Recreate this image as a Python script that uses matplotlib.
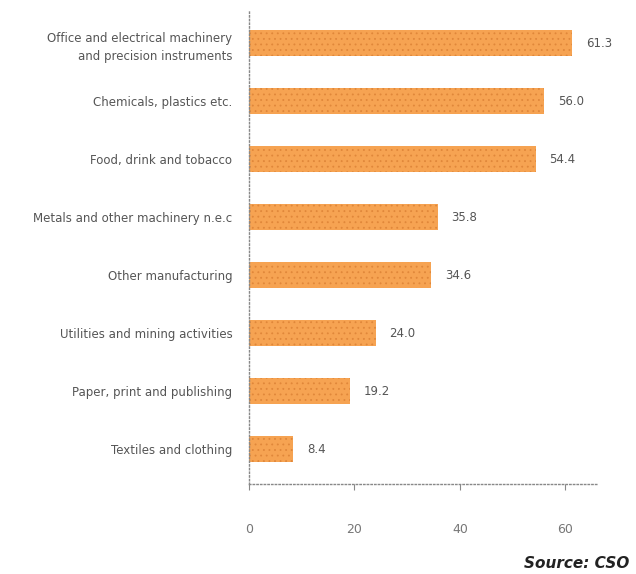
import numpy as np
import matplotlib
matplotlib.use("Agg")
import matplotlib.pyplot as plt

# sectors, top to bottom as in the chart
sectors = ["Office and electrical machinery\nand precision instruments",
           "Chemicals, plastics etc.",
           "Food, drink and tobacco",
           "Metals and other machinery n.e.c",
           "Other manufacturing",
           "Utilities and mining activities",
           "Paper, print and publishing",
           "Textiles and clothing"]
values = [61.3, 56.0, 54.4, 35.8, 34.6, 24.0, 19.2, 8.4]
xticks = [0, 20, 40, 60]

plt.rcParams['hatch.linewidth'] = 0.6

fig = plt.figure(figsize=(6.36, 5.74), dpi=100)
ax = fig.add_axes([249/636, 1-484/574, (597-249)/636, (484-10)/574])

pos = np.arange(len(sectors))
bars = ax.barh(pos, values, height=0.45, color='#f6a352',
               edgecolor='#e0873a', linewidth=0, hatch='...')

for p, v in zip(pos, values):
    ax.text(v + 2.6, p, f"{v:.1f}", va='center', ha='left',
            fontsize=8.5, color='#555555')

ax.set_xlim(0, 66)
ax.set_ylim(7.6, -0.57)
ax.set_yticks(pos)
ax.set_yticklabels(sectors, fontsize=8.5, color='#555555',
                   linespacing=1.5, ha='right')
ax.tick_params(axis='y', length=0, pad=12)
ax.set_xticks(xticks)
ax.tick_params(axis='x', length=4, direction='out', colors='#888888',
               labelcolor='#777777', labelsize=9, pad=24)

for s in ['top', 'right']:
    ax.spines[s].set_visible(False)
for s in ['left', 'bottom']:
    ax.spines[s].set_linestyle(':')
    ax.spines[s].set_color('#888888')
    ax.spines[s].set_linewidth(1)

fig.text(0.99, 0.005, "Source: CSO", ha='right', va='bottom',
         fontsize=11, fontweight='bold', fontstyle='italic', color='#222222')

fig.savefig("out.png", dpi=100)
